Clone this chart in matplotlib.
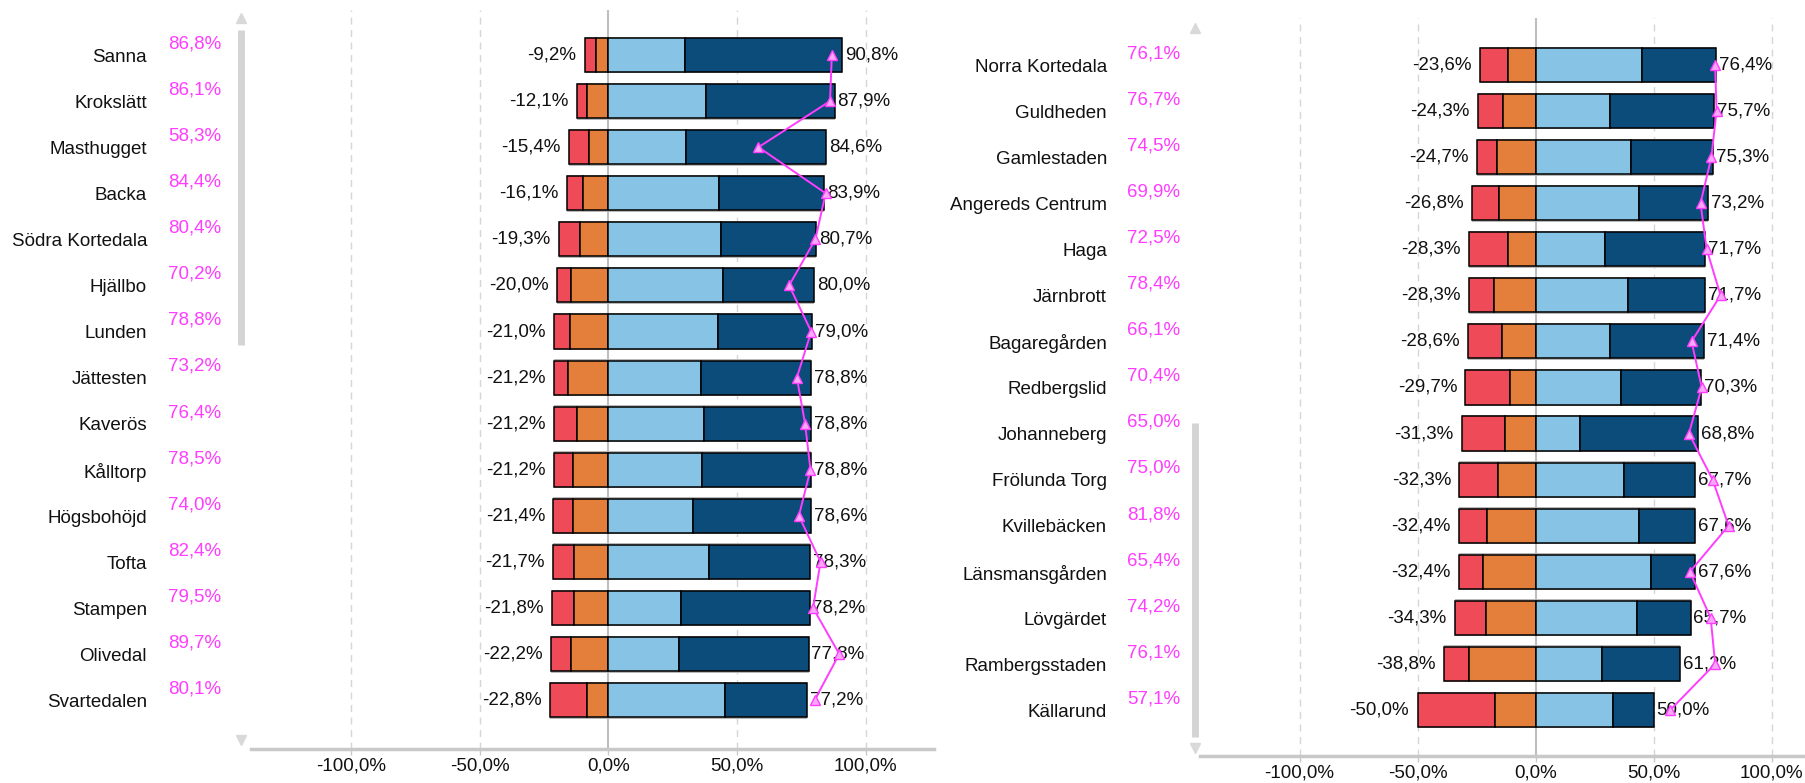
import matplotlib
matplotlib.use("Agg")
import matplotlib.pyplot as plt
from matplotlib.lines import Line2D
from matplotlib.transforms import blended_transform_factory
from matplotlib.ticker import FuncFormatter

# Data - vänster panel
namn_v = ["Sanna", "Krokslätt", "Masthugget", "Backa", "Södra Kortedala", "Hjällbo",
          "Lunden", "Jättesten", "Kaverös", "Kålltorp", "Högsbohöjd", "Tofta",
          "Stampen", "Olivedal", "Svartedalen"]
rod_v = [4.5, 3.8, 7.8, 6.4, 8.3, 5.6, 5.9, 5.5, 8.8, 7.3, 7.5, 8.4, 8.5, 7.6, 14.5]
orange_v = [4.7, 8.3, 7.6, 9.7, 11.0, 14.4, 15.1, 15.7, 12.4, 13.9, 13.9, 13.3, 13.3, 14.6, 8.3]
ljusbla_v = [29.7, 38.0, 30.3, 43.1, 43.8, 44.7, 42.5, 36.0, 37.1, 36.4, 33.0, 39.1, 28.3, 27.6, 45.4]
morkbla_v = [61.1, 49.9, 54.3, 40.8, 36.9, 35.3, 36.5, 42.8, 41.7, 42.4, 45.6, 39.2, 49.9, 50.2, 31.8]
magenta_v = [86.8, 86.1, 58.3, 84.4, 80.4, 70.2, 78.8, 73.2, 76.4, 78.5, 74.0, 82.4, 79.5, 89.7, 80.1]

# Data - höger panel
namn_h = ["Norra Kortedala", "Guldheden", "Gamlestaden", "Angereds Centrum", "Haga",
          "Järnbrott", "Bagaregården", "Redbergslid", "Johanneberg", "Frölunda Torg",
          "Kvillebäcken", "Länsmansgården", "Lövgärdet", "Rambergsstaden", "Källarund"]
rod_h = [11.9, 10.7, 8.2, 11.3, 16.6, 10.6, 14.3, 18.8, 18.4, 16.5, 12.0, 10.1, 13.2, 10.4, 33.0]
orange_h = [11.7, 13.6, 16.5, 15.5, 11.7, 17.7, 14.3, 10.9, 12.9, 15.8, 20.4, 22.3, 21.1, 28.4, 17.0]
ljusbla_h = [45.1, 31.6, 40.5, 43.7, 29.6, 39.1, 31.6, 36.2, 18.7, 37.6, 43.7, 49.0, 43.0, 28.2, 33.0]
morkbla_h = [31.3, 44.1, 34.8, 29.5, 42.1, 32.6, 39.8, 34.1, 50.1, 30.1, 23.9, 18.6, 22.7, 33.0, 17.0]
magenta_h = [76.1, 76.7, 74.5, 69.9, 72.5, 78.4, 66.1, 70.4, 65.0, 75.0, 81.8, 65.4, 74.2, 76.1, 57.1]

TICKS = [-100, -50, 0, 50, 100]

# Färger
ROD = "#EE4A58"
ORANGE = "#E37E3B"
LJUSBLA = "#86C3E4"
MORKBLA = "#0B4C7B"
MAGENTA = "#FF3CFF"
GRA = "#C8C8C8"
FS = 13.5

plt.rcParams["font.family"] = ["Liberation Sans", "DejaVu Sans"]

W, H = 1806, 783
fig = plt.figure(figsize=(W / 100, H / 100), dpi=100)


def pct(v):
    return f"{v:.1f}%".replace(".", ",")


def rita_panel(x0, x1, y_top, y_bot, xlim, ylim, namn, rod, orange, ljus, mork, mag,
               namn_x, mag_x):
    ax = fig.add_axes([x0 / W, 1 - y_bot / H, (x1 - x0) / W, (y_bot - y_top) / H])
    rader = list(range(len(namn)))
    neg = [r + o for r, o in zip(rod, orange)]
    pos = [l + m for l, m in zip(ljus, mork)]

    # rutnät
    for t in TICKS:
        if t == 0:
            ax.axvline(0, color="#BEBEBE", lw=1.5, zorder=1)
        else:
            ax.axvline(t, color="#D6D6D6", lw=1.0, ls=(0, (5, 4)), zorder=1)

    # skugga runt staplarna
    ax.barh(rader, [n + p for n, p in zip(neg, pos)], left=[-n for n in neg], height=0.8,
            color="#B8B8B8", edgecolor="none", zorder=2)
    ax.barh(rader, [-r for r in rod], left=[-o for o in orange], height=0.74, color=ROD,
            edgecolor="black", lw=1.1, zorder=3)
    ax.barh(rader, [-o for o in orange], height=0.74, color=ORANGE,
            edgecolor="black", lw=1.1, zorder=3)
    ax.barh(rader, ljus, height=0.74, color=LJUSBLA, edgecolor="black", lw=1.1, zorder=3)
    ax.barh(rader, mork, left=ljus, height=0.74, color=MORKBLA, edgecolor="black", lw=1.1,
            zorder=3)

    for i in rader:
        ax.annotate(pct(-neg[i]), xy=(-neg[i], i), xytext=(-6, 0), textcoords="offset points",
                    ha="right", va="center", fontsize=FS, color="#111111", zorder=4)
        ax.annotate(pct(pos[i]), xy=(pos[i], i), xytext=(2, 0), textcoords="offset points",
                    ha="left", va="center", fontsize=FS, color="#111111", zorder=4)

    ax.plot(mag, rader, color=MAGENTA, lw=1.4, marker="^", markersize=7,
            markerfacecolor="#F8A8F8", markeredgecolor=MAGENTA, zorder=5)

    # namn och magenta-värden till vänster
    tr = blended_transform_factory(fig.transFigure, ax.transData)
    for i in rader:
        ax.text(namn_x / W, i + 0.05, namn[i], transform=tr, ha="right", va="center",
                fontsize=FS, color="#111111", clip_on=False)
        ax.annotate(pct(mag[i]), xy=(mag_x / W, i), xycoords=tr, xytext=(0, 8),
                    textcoords="offset points", ha="left", va="center", fontsize=FS,
                    color=MAGENTA, annotation_clip=False)

    ax.set_xlim(*xlim)
    ax.set_ylim(*ylim)
    ax.set_xticks(TICKS)
    ax.xaxis.set_major_formatter(FuncFormatter(lambda v, p: pct(v)))
    ax.set_yticks([])
    for s in ["top", "left", "right"]:
        ax.spines[s].set_visible(False)
    ax.spines["bottom"].set_color(GRA)
    ax.spines["bottom"].set_linewidth(2.5)
    ax.tick_params(axis="x", colors=GRA, length=4, width=1, pad=2, labelsize=FS,
                   labelcolor="#111111")
    return ax


rita_panel(251, 934, 10, 749, (-138.9, 126.5), (15.06, -0.977),
           namn_v, rod_v, orange_v, ljusbla_v, morkbla_v, magenta_v, 147, 168)
rita_panel(1200, 1806, 18, 756, (-142.2, 114.6), (15.0, -1.02),
           namn_h, rod_h, orange_h, ljusbla_h, morkbla_h, magenta_h, 1107, 1127)


# rullningslister (dekor)
def rullning(x, y0, y1, pil_upp, pil_ned):
    fig.add_artist(Line2D([x / W, x / W], [1 - y0 / H, 1 - y1 / H], color="#D4D4D4", lw=5,
                          solid_capstyle="butt", transform=fig.transFigure))
    fig.add_artist(Line2D([x / W], [1 - pil_upp / H], marker="^", markersize=7, color="#D9D9D9",
                          lw=0, transform=fig.transFigure))
    fig.add_artist(Line2D([x / W], [1 - pil_ned / H], marker="v", markersize=7, color="#D9D9D9",
                          lw=0, transform=fig.transFigure))


rullning(241, 30, 345, 18, 740)
rullning(1195, 423, 737, 28, 748)

fig.savefig("out.png", dpi=100)
